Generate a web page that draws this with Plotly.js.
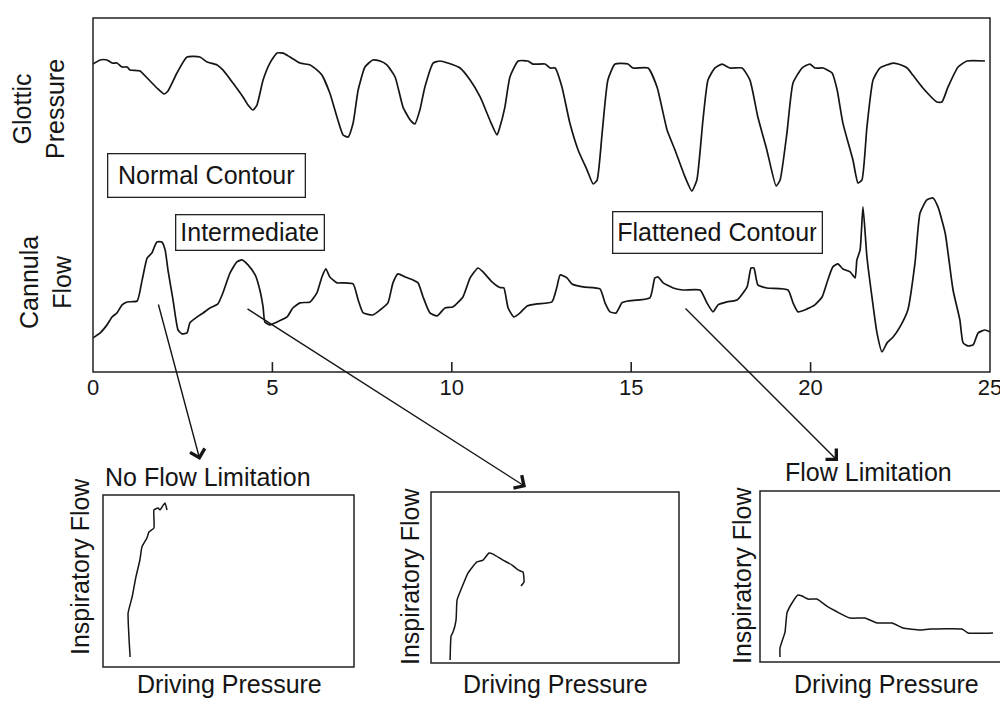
<!DOCTYPE html>
<html>
<head>
<meta charset="utf-8">
<script src="https://cdn.plot.ly/plotly-3.0.1.min.js"></script>
<style>html,body{margin:0;padding:0;background:#fff;}#chart{width:1000px;height:711px;}</style>
</head>
<body>
<div id="chart"></div>
<script>
// ---- Top panel: glottic pressure (arbitrary units) vs time (s)
const pressureTime = [0.00,0.20,0.39,0.53,0.67,0.81,0.95,1.03,1.31,1.51,1.78,1.98,2.09,2.34,2.62,2.98,3.18,3.46,3.62,3.90,4.18,4.32,4.46,4.57,4.74,4.93,5.13,5.30,5.49,5.77,6.05,6.24,6.38,6.60,6.80,6.97,7.11,7.25,7.39,7.58,7.80,8.00,8.19,8.42,8.64,8.84,8.97,9.11,9.25,9.48,9.67,9.89,10.23,10.51,10.79,11.06,11.26,11.34,11.48,11.62,11.85,12.12,12.26,12.60,12.74,12.88,13.07,13.29,13.52,13.77,13.94,14.05,14.19,14.35,14.55,14.91,15.05,15.47,15.72,16.00,16.22,16.50,16.69,16.83,17.00,17.14,17.33,17.53,17.75,18.09,18.31,18.53,18.78,19.04,19.15,19.34,19.51,19.76,19.98,20.12,20.35,20.60,20.74,20.90,21.18,21.32,21.43,21.57,21.74,21.93,22.30,22.44,22.69,22.85,23.13,23.52,23.66,23.83,24.11,24.36,24.86];
const pressureValue = [9.84,10.16,10.16,9.92,9.92,9.61,9.61,9.38,9.30,8.75,7.97,7.50,7.73,9.14,10.39,10.39,10.00,9.77,9.38,8.36,7.27,6.64,6.25,6.64,8.59,9.92,10.70,10.70,10.39,9.92,9.77,9.38,8.98,7.58,5.70,4.30,4.14,5.23,7.81,9.61,10.16,10.08,9.77,8.83,6.48,5.47,5.16,6.25,8.05,9.92,10.08,9.92,9.53,8.59,7.27,5.47,4.30,4.92,6.48,8.83,10.08,10.08,9.84,9.84,9.53,9.53,8.05,5.23,3.13,1.56,0.47,0.78,4.45,8.59,9.84,9.84,9.53,9.53,8.05,4.69,3.13,1.02,-0.08,0.78,5.47,8.59,9.53,9.84,9.53,9.53,8.59,5.70,3.13,0.31,0.78,4.45,8.36,9.53,9.84,9.53,9.53,9.14,7.81,5.23,2.34,0.55,0.78,4.92,8.59,9.53,9.92,9.84,9.53,8.98,7.97,6.88,6.88,8.05,9.61,10.08,10.08];

// ---- Top panel: cannula flow (arbitrary units) vs time (s)
const flowTime = [0.00,0.20,0.39,0.53,0.67,0.81,0.95,1.23,1.37,1.51,1.64,1.78,1.92,2.01,2.09,2.23,2.37,2.48,2.62,2.70,2.90,3.07,3.26,3.48,3.62,3.82,4.01,4.15,4.32,4.52,4.65,4.74,4.79,4.93,5.13,5.41,5.57,5.77,6.05,6.24,6.38,6.49,6.60,6.80,6.97,7.25,7.39,7.53,7.80,8.00,8.22,8.36,8.50,8.70,8.92,9.06,9.20,9.39,9.59,9.81,10.03,10.31,10.51,10.73,10.87,11.12,11.34,11.45,11.57,11.73,11.90,12.10,12.37,12.79,12.93,13.02,13.21,13.35,13.66,14.13,14.27,14.41,14.58,14.74,14.91,15.52,15.66,15.75,15.89,16.17,16.44,16.92,17.11,17.28,17.42,17.67,17.95,18.23,18.34,18.42,18.53,18.78,19.37,19.51,19.65,19.90,20.12,20.32,20.48,20.62,20.76,20.90,21.10,21.24,21.29,21.38,21.46,21.57,21.71,21.85,21.99,22.13,22.30,22.49,22.71,22.91,23.05,23.24,23.41,23.55,23.75,23.97,24.16,24.25,24.39,24.53,24.67,24.86,25.00];
const flowValue = [0.97,1.29,1.81,2.32,2.58,3.10,3.29,3.35,4.71,6.13,6.45,7.16,7.16,6.65,5.35,3.42,1.48,1.23,1.29,1.94,2.32,2.58,2.90,3.16,3.87,5.16,5.87,6.00,5.68,5.03,4.06,2.97,2.00,1.81,2.00,2.32,2.90,3.23,3.29,3.87,4.90,5.42,4.90,4.52,4.52,4.45,3.42,2.58,2.45,2.77,3.23,4.52,5.10,4.90,4.71,4.52,3.61,2.58,2.39,2.90,2.97,3.61,4.84,5.48,5.23,4.58,4.22,4.19,2.90,2.32,2.58,3.03,3.16,3.29,4.26,5.03,4.84,4.45,4.26,4.13,3.23,2.65,2.58,3.23,3.35,3.55,4.84,4.90,4.52,4.19,4.06,4.06,3.23,2.65,3.10,3.29,3.42,4.26,5.48,5.48,4.39,4.19,4.06,3.23,2.65,2.84,3.10,3.61,4.71,5.55,5.74,5.42,5.23,4.84,6.00,6.65,9.42,6.19,3.61,1.29,0.06,0.65,1.03,1.68,2.77,5.81,9.03,9.87,10.00,9.42,7.74,4.06,2.13,0.65,0.45,0.52,1.29,1.48,1.35];
const timeTicks = [0, 5, 10, 15, 20, 25];
const timeRange = [0, 25];

// ---- Bottom panels: inspiratory flow vs driving pressure (arbitrary units)
const noLimitPressure = [1.08,1.04,1.00,1.16,1.31,1.47,1.55,1.75,1.83,2.03,2.03,2.19,2.27,2.35,2.47,2.55];
const noLimitFlow     = [0.58,1.57,3.14,4.07,5.23,6.22,6.98,7.50,7.85,8.08,9.13,9.24,9.13,9.30,9.53,9.13];
const interPressure = [0.77,0.81,0.89,1.01,1.05,1.25,1.49,1.85,2.10,2.34,2.50,2.90,3.27,3.51,3.71,3.75,3.63];
const interFlow     = [0.18,1.58,1.81,2.51,3.68,4.44,5.26,5.91,6.02,6.43,6.37,6.02,5.73,5.44,5.32,4.74,4.50];
const limitPressure = [0.80,0.80,1.00,1.08,1.28,1.52,1.68,1.92,2.28,2.72,3.60,4.20,4.68,5.28,5.72,6.40,6.80,8.08,8.32,9.32];
const limitFlow     = [0.29,0.82,1.75,2.87,3.45,3.92,3.86,3.68,3.68,3.22,2.57,2.57,2.28,2.28,1.99,1.87,1.93,1.93,1.70,1.70];

const FONT = 'Liberation Sans, Arial, Helvetica, sans-serif';
const INK = '#151515';
const lineStyle = {color: INK, width: 1.7, shape: 'spline', smoothing: 0.5};
const insetLine = {color: INK, width: 1.5, shape: 'spline', smoothing: 0.4};

const traces = [
  {x: pressureTime, y: pressureValue, xaxis: 'x', yaxis: 'y', mode: 'lines', line: lineStyle, hoverinfo: 'skip'},
  {x: flowTime, y: flowValue, xaxis: 'x', yaxis: 'y2', mode: 'lines', line: lineStyle, hoverinfo: 'skip'},
  {x: noLimitPressure, y: noLimitFlow, xaxis: 'x2', yaxis: 'y3', mode: 'lines', line: insetLine, hoverinfo: 'skip'},
  {x: interPressure, y: interFlow, xaxis: 'x3', yaxis: 'y4', mode: 'lines', line: insetLine, hoverinfo: 'skip'},
  {x: limitPressure, y: limitFlow, xaxis: 'x4', yaxis: 'y5', mode: 'lines', line: insetLine, hoverinfo: 'skip'}
];

const bare = {showline: false, showgrid: false, zeroline: false, showticklabels: false, ticks: ''};
const insetX = (dom, rng, anchorY) => Object.assign({}, bare, {domain: dom, range: rng, anchor: anchorY});
const insetY = (dom, anchorX) => Object.assign({}, bare, {domain: dom, range: [0, 10], anchor: anchorX});

// frames drawn in each subplot's own domain coordinates
function frameRect(xa, ya, x1) {
  return {type: 'rect', xref: xa + ' domain', yref: ya + ' domain', x0: 0, x1: x1, y0: 0, y1: 1,
    line: {color: '#222', width: 1.5}, fillcolor: 'rgba(0,0,0,0)', layer: 'above'};
}
// inward tick marks at the time tick values, placed through the axis range -> domain fraction
const toDomain = t => (t - timeRange[0]) / (timeRange[1] - timeRange[0]);
const tickMarks = timeTicks.slice(1, -1).map(t => ({type: 'line', xref: 'x domain', yref: 'y domain',
  x0: toDomain(t), x1: toDomain(t), y0: 0, y1: 0.028, line: {color: '#222', width: 1.6}, layer: 'above'}));

function label(text, x, y, opts) {
  return Object.assign({text: text, x: x, y: y, xref: 'paper', yref: 'paper', showarrow: false,
    xanchor: 'center', yanchor: 'middle', font: {family: FONT, size: 25, color: INK}}, opts || {});
}
function boxed(text, x, y, w, h) {
  return label(text, x, y, {bordercolor: '#222', borderwidth: 1.3, borderpad: 5, bgcolor: 'rgba(255,255,255,0)', width: w, height: h});
}
function arrow(hx, hy, ax, ay) {
  return {text: '', x: hx, y: hy, xref: 'paper', yref: 'paper', ax: ax, ay: ay, showarrow: true,
    arrowhead: 4, arrowsize: 2.1, arrowwidth: 1.4, arrowcolor: INK, standoff: 0, startstandoff: 0};
}

const layout = {
  width: 1000, height: 711,
  margin: {l: 0, r: 0, t: 0, b: 0},
  paper_bgcolor: '#fff', plot_bgcolor: 'rgba(0,0,0,0)',
  showlegend: false,
  xaxis: Object.assign({}, bare, {domain: [0.093, 0.990], range: timeRange, anchor: 'y',
    showticklabels: true, tickvals: timeTicks, ticktext: timeTicks.map(String),
    ticklabeloverflow: 'allow', tickfont: {family: FONT, size: 22, color: INK}}),
  yaxis: Object.assign({}, bare, {domain: [0.4768, 0.9747], range: [-14.22, 13.44], anchor: 'x'}),
  yaxis2: {overlaying: 'y', range: [-1.23, 21.61], visible: false, showgrid: false, zeroline: false, anchor: 'x'},
  xaxis2: insetX([0.103, 0.354], [0, 10], 'y3'),
  yaxis3: insetY([0.0619, 0.3038], 'x2'),
  xaxis3: insetX([0.431, 0.679], [0, 10], 'y4'),
  yaxis4: insetY([0.0675, 0.3080], 'x3'),
  xaxis4: insetX([0.760, 1.0], [0, 9.6], 'y5'),
  yaxis5: insetY([0.0689, 0.3094], 'x4'),
  shapes: [
    frameRect('x', 'y', 1),
    frameRect('x2', 'y3', 1),
    frameRect('x3', 'y4', 1),
    frameRect('x4', 'y5', 1.05)
  ].concat(tickMarks),
  annotations: [
    label('Glottic<br>Pressure', 0.039, 0.8467, {textangle: -90}),
    label('Cannula<br>Flow', 0.046, 0.6020, {textangle: -90}),
    boxed('Normal Contour', 0.206, 0.7525, 186, 32),
    boxed('Intermediate', 0.2495, 0.6723, 137, 24),
    boxed('Flattened Contour', 0.717, 0.6723, 198, 30),
    arrow(0.200, 1 - 460/711, -42, -157),
    arrow(0.526, 1 - 487/711, -280, -179),
    arrow(0.838, 1 - 461/711, -154, -154),
    label('No Flow Limitation', 0.103, 0.3291, {xanchor: 'left'}),
    label('Flow Limitation', 0.868, 0.3361),
    label('Inspiratory Flow', 0.080, 0.2025, {textangle: -90}),
    label('Inspiratory Flow', 0.410, 0.1885, {textangle: -90}),
    label('Inspiratory Flow', 0.742, 0.1899, {textangle: -90}),
    label('Driving Pressure', 0.229, 0.0380),
    label('Driving Pressure', 0.555, 0.0380),
    label('Driving Pressure', 0.886, 0.0380)
  ]
};

Plotly.newPlot('chart', traces, layout, {staticPlot: true, displayModeBar: false});
</script>
</body>
</html>
